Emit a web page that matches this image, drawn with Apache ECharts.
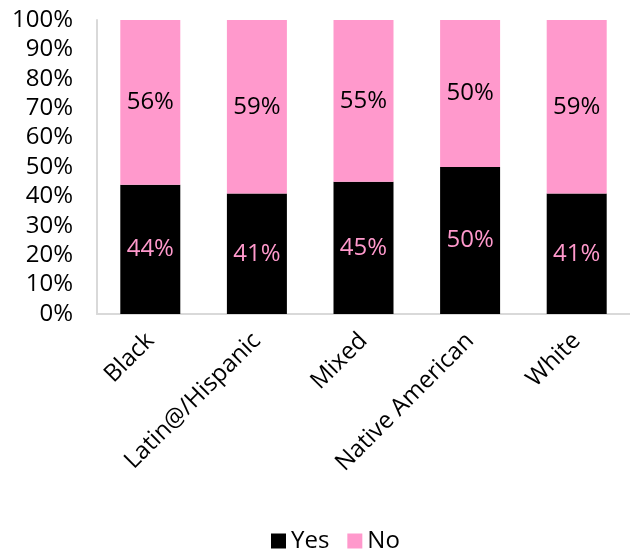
<!DOCTYPE html>
<html>
<head>
<meta charset="utf-8">
<script src="https://cdn.jsdelivr.net/npm/echarts@6/dist/echarts.min.js"></script>
<style>
  html, body { margin: 0; padding: 0; background: #fff; }
  #chart { width: 630px; height: 552px; }
</style>
</head>
<body>
<div id="chart"></div>
<script>
// data
const categories = ['Black', 'Latin@/Hispanic', 'Mixed', 'Native American', 'White'];
const yesPct = [44, 41, 45, 50, 41];
const noPct = [56, 59, 55, 50, 59];
const yTicks = [0, 10, 20, 30, 40, 50, 60, 70, 80, 90, 100];

const fontFamily = '"Open Sans", "Noto Sans", sans-serif';
const fontColor = '#000';
const lineColor = '#d9d9d9';
const pink = '#ff99cc';

const chart = echarts.init(document.getElementById('chart'), null, { renderer: 'canvas' });

chart.setOption({
  animation: false,
  textStyle: { fontFamily: fontFamily },
  grid: { left: 97, top: 20, width: 536, height: 294 },
  legend: {
    top: 524,
    left: 266,
    itemWidth: 15,
    itemHeight: 15,
    itemGap: 18,
    icon: 'rect',
    textStyle: { fontSize: 24, color: fontColor, fontFamily: fontFamily },
    data: ['Yes', 'No']
  },
  xAxis: {
    type: 'category',
    data: categories,
    axisLine: { lineStyle: { color: lineColor, width: 2 } },
    axisTick: { show: false },
    axisLabel: {
      rotate: 45,
      interval: 0,
      margin: 23,
      fontSize: 24,
      color: fontColor,
      fontFamily: fontFamily
    }
  },
  yAxis: {
    type: 'value',
    min: 0,
    max: 100,
    interval: 10,
    axisLine: { show: true, lineStyle: { color: lineColor, width: 2 } },
    axisTick: { show: false },
    splitLine: { show: false },
    axisLabel: {
      margin: 24,
      fontSize: 24,
      color: fontColor,
      fontFamily: fontFamily,
      formatter: v => (yTicks.indexOf(v) >= 0 ? v + '%' : '')
    }
  },
  series: [
    {
      name: 'Yes',
      type: 'bar',
      stack: 'total',
      barWidth: 60,
      data: yesPct,
      itemStyle: { color: '#000' },
      label: {
        show: true,
        position: 'inside',
        formatter: '{c}%',
        fontSize: 24,
        color: pink,
        fontFamily: fontFamily
      }
    },
    {
      name: 'No',
      type: 'bar',
      stack: 'total',
      barWidth: 60,
      data: noPct,
      itemStyle: { color: pink },
      label: {
        show: true,
        position: 'inside',
        formatter: '{c}%',
        fontSize: 24,
        color: '#000',
        fontFamily: fontFamily
      }
    }
  ]
});
</script>
</body>
</html>
